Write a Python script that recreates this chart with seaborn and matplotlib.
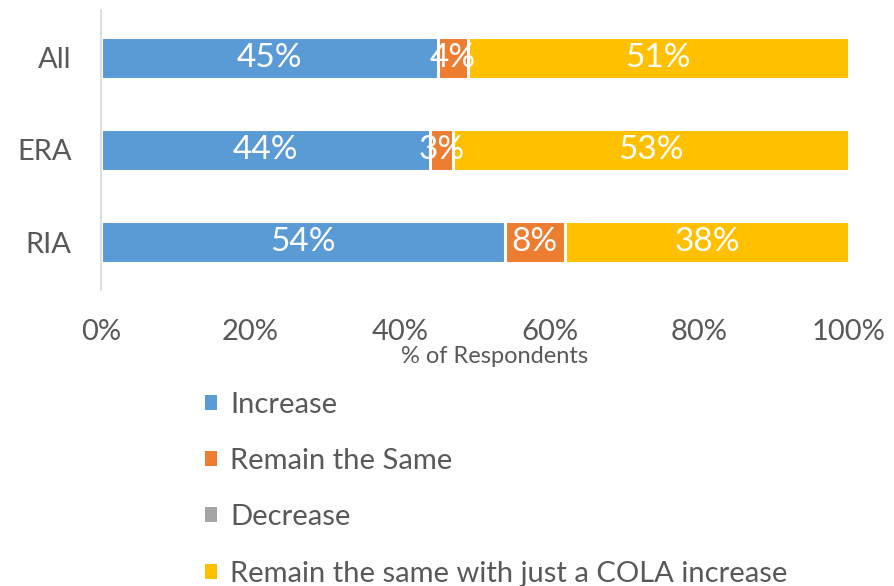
import matplotlib
matplotlib.use("Agg")
import matplotlib.pyplot as plt
from matplotlib.patches import Patch
import numpy as np
import pandas as pd
import seaborn as sns

groups = ["All", "ERA", "RIA"]
responses = ["Increase", "Remain the Same", "Decrease",
             "Remain the same with just a COLA increase"]
increase = [45, 44, 54]
remain_same = [4, 3, 8]
decrease = [0, 0, 0]
remain_cola = [51, 53, 38]
x_ticks = [0, 20, 40, 60, 80, 100]

colors = ["#5B9BD5", "#ED7D31", "#A5A5A5", "#FFC000"]
text_color = "#595959"

sns.set_theme(style="white")
plt.rcParams["font.family"] = ["Lato", "DejaVu Sans"]

series = [increase, remain_same, decrease, remain_cola]
cum = np.cumsum(np.array(series, dtype=float), axis=0)

fig = plt.figure(figsize=(8.94, 5.86), dpi=100)
ax = fig.add_axes([101 / 894, 1 - 290 / 586, 748 / 894, 280 / 586])

# Stacked bars: draw cumulative totals from the outermost layer inwards
for i in range(len(series) - 1, -1, -1):
    df = pd.DataFrame({"group": groups, "value": cum[i]})
    sns.barplot(data=df, x="value", y="group", orient="h", color=colors[i],
                saturation=1, width=0.46, edgecolor="white", linewidth=2.2,
                ax=ax)

# Value labels centred in each segment
for i, vals in enumerate(series):
    for j, v in enumerate(vals):
        if v == 0:
            continue
        center = cum[i][j] - v / 2
        ax.text(center, j, f"{v}%", ha="center", va="center",
                color="white", fontsize=24)

ax.set_xlim(0, 100)
ax.set_ylim(2.52, -0.52)
ax.set_xticks(x_ticks)
ax.set_xticklabels([f"{t}%" for t in x_ticks])
ax.tick_params(axis="both", length=0, labelsize=21, colors=text_color)
ax.tick_params(axis="x", pad=21)
ax.tick_params(axis="y", pad=21)
ax.set_ylabel("")
ax.set_xlabel("% of Respondents", fontsize=17, color=text_color)
ax.xaxis.set_label_coords(0.526, -0.239)
ax.xaxis.label.set_va("center")

for side in ["top", "right", "bottom"]:
    ax.spines[side].set_visible(False)
ax.spines["left"].set_color("#D9D9D9")
ax.spines["left"].set_linewidth(1.2)

handles = [Patch(facecolor=c, edgecolor="none") for c in colors]
fig.legend(handles, responses, loc="upper left",
           bbox_to_anchor=(193 / 894, 1 - 380 / 586), frameon=False,
           fontsize=21, labelcolor=text_color, handlelength=0.42,
           handleheight=0.42, handletextpad=0.45, labelspacing=1.04,
           borderaxespad=0)

fig.savefig("out.png", dpi=100)
